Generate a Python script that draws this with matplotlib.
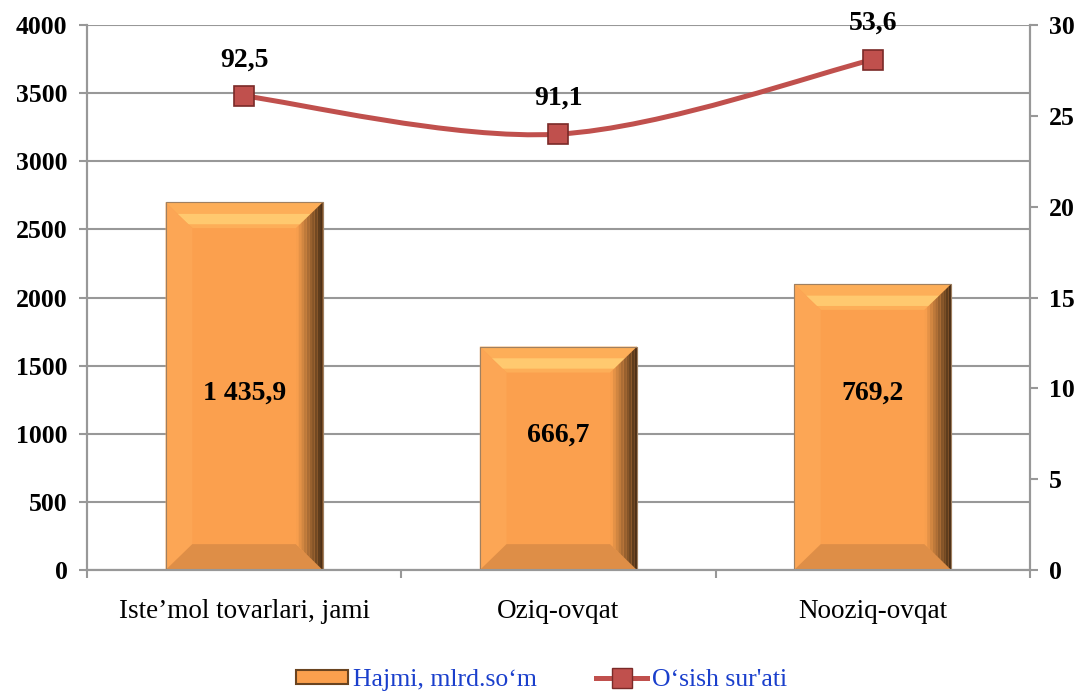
''' Hajmi va o'sish sur'ati '''
from matplotlib import pyplot as plt
from matplotlib.path import Path
from matplotlib.patches import PathPatch, Polygon
from matplotlib.lines import Line2D
from matplotlib.patches import Patch
import numpy as np

categories = ['Iste\u2019mol tovarlari, jami', 'Oziq-ovqat', 'Nooziq-ovqat']
bar_values = [2700, 1640, 2100]
bar_labels = ['1 435,9', '666,7', '769,2']
line_values = [26.1, 24.0, 28.1]
line_labels = ['92,5', '91,1', '53,6']
legend_names = ['Hajmi, mlrd.so\u2018m', 'O\u2018sish sur\'ati']

plt.rcParams['font.family'] = ['Liberation Serif', 'DejaVu Serif']

fig = plt.figure(figsize=(10.84, 6.99), dpi=100)
ax = fig.add_axes([0.0803, 0.1845, 0.8697, 0.7795])
ax2 = ax.twinx()

grey = '#989898'
x = np.arange(len(categories))
width = 0.5

# bars with a bevel look
bars = ax.bar(x, bar_values, width, color='#FBA04E', edgecolor='#b0b0b0', linewidth=0.8, zorder=2)
bx = 0.085  # bevel width in category units
by = 190    # bevel height in left-axis units
for b in bars:
    x0, x1 = b.get_x(), b.get_x() + b.get_width()
    y0, y1 = 0, b.get_height()
    # top
    ax.add_patch(Polygon([(x0, y1), (x1, y1), (x1 - bx, y1 - by), (x0 + bx, y1 - by)],
                         closed=True, color='#FDAE58', lw=0, zorder=3))
    ax.add_patch(Polygon([(x0 + bx * 0.45, y1 - by * 0.45), (x1 - bx * 0.45, y1 - by * 0.45),
                          (x1 - bx * 0.85, y1 - by * 0.85), (x0 + bx * 0.85, y1 - by * 0.85)],
                         closed=True, color='#FFC96F', lw=0, zorder=3))
    # left
    ax.add_patch(Polygon([(x0, y1), (x0 + bx, y1 - by), (x0 + bx, y0 + by), (x0, y0)],
                         closed=True, color='#FCA655', lw=0, zorder=3))
    # bottom
    ax.add_patch(Polygon([(x0, y0), (x0 + bx, y0 + by), (x1 - bx, y0 + by), (x1, y0)],
                         closed=True, color='#DE8E47', lw=0, zorder=3))
    # right, shaded strips
    n = 10
    cols = np.linspace([0.97, 0.62, 0.30], [0.30, 0.19, 0.09], n)
    for i in range(n):
        a0 = x1 - bx + bx * i / n
        a1 = x1 - bx + bx * (i + 1) / n
        t0 = by * (1 - i / n)
        t1 = by * (1 - (i + 1) / n)
        ax.add_patch(Polygon([(a0, y1 - t0), (a1, y1 - t1), (a1, y0 + t1), (a0, y0 + t0)],
                             closed=True, color=cols[i], lw=0, zorder=3))
    ax.add_patch(Polygon([(x0, y1), (x1, y1), (x1, y0), (x0, y0)], closed=True,
                         fill=False, edgecolor='#a08060', lw=0.8, zorder=4))

label_y = [1300, 990, 1300]
for xi, lab, ly in zip(x, bar_labels, label_y):
    ax.text(xi, ly, lab, ha='center', va='center', fontsize=20, fontweight='bold', zorder=5)

ax.set_xlim(-0.5, 2.5)
ax.set_ylim(0, 4000)
ax.set_yticks(range(0, 4001, 500))
ax.yaxis.grid(True, color=grey, linewidth=1.5)
ax.set_axisbelow(True)
ax.set_xticks(x)
ax.set_xticklabels(categories, fontsize=19.5)
ax.set_xticks([-0.5, 0.5, 1.5, 2.5], minor=True)
ax.tick_params(axis='x', which='major', length=0, pad=21)
ax.tick_params(axis='x', which='minor', length=6, color=grey, width=1.5)
ax.tick_params(axis='y', length=6, color=grey, width=1.5, labelsize=18.5, pad=8)
for lab in ax.get_yticklabels():
    lab.set_fontweight('bold')
for s in ['left', 'bottom', 'right']:
    ax.spines[s].set_color(grey)
    ax.spines[s].set_linewidth(1.5)
ax.spines['top'].set_visible(False)

# smoothed line on the secondary axis
ax2.set_ylim(0, 30)
ax2.set_yticks(range(0, 31, 5))
ax2.tick_params(axis='y', length=6, color=grey, width=1.5, labelsize=18.5, pad=8)
for lab in ax2.get_yticklabels():
    lab.set_fontweight('bold')
for s in ['left', 'bottom', 'right']:
    ax2.spines[s].set_color(grey)
    ax2.spines[s].set_linewidth(1.5)
ax2.spines['top'].set_visible(False)

pts = np.column_stack([x, line_values]).astype(float)
verts = [pts[0]]
codes = [Path.MOVETO]
for i in range(len(pts) - 1):
    p_prev = pts[i - 1] if i > 0 else pts[i]
    p_next = pts[i + 2] if i + 2 < len(pts) else pts[i + 1]
    c1 = pts[i] + (pts[i + 1] - p_prev) / 6
    c2 = pts[i + 1] - (p_next - pts[i]) / 6
    verts += [c1, c2, pts[i + 1]]
    codes += [Path.CURVE4] * 3
ax2.add_patch(PathPatch(Path(verts, codes), fill=False, edgecolor='#C0504D', lw=3.6, zorder=5))
ax2.plot(x, line_values, linestyle='none', marker='s', markersize=15,
         markerfacecolor='#C0504D', markeredgecolor='#7a2a28', markeredgewidth=1.2, zorder=6)
for xi, v, lab in zip(x, line_values, line_labels):
    ax2.annotate(lab, (xi, v), xytext=(0, 17), textcoords='offset points',
                 ha='center', va='bottom', fontsize=20, fontweight='bold')

handles = [Patch(facecolor='#FBA04E', edgecolor='#6a4420', linewidth=1.5),
           Line2D([], [], color='#C0504D', lw=3.6, marker='s', markersize=15,
                  markerfacecolor='#C0504D', markeredgecolor='#7a2a28')]
fig.legend(handles, legend_names, loc='lower center', bbox_to_anchor=(0.5, -0.022), ncol=2,
           frameon=False, fontsize=18.5, labelcolor='#1a3fcc', handlelength=2.0,
           handleheight=0.5, columnspacing=2.3, handletextpad=0.2)

plt.savefig('out.png', dpi=100)
plt.close()
